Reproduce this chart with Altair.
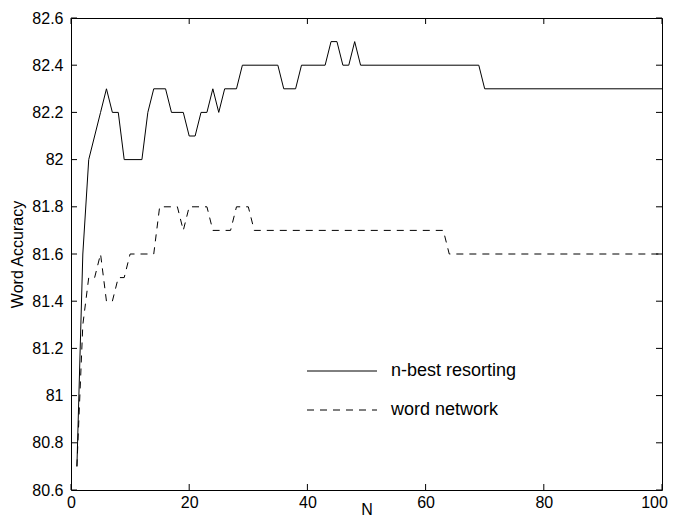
import altair as alt
import pandas as pd

# ---- data ----
nbest_N = [1, 2, 3, 4, 5, 6, 7, 8, 9, 12, 13, 14, 16, 17, 19, 20, 21, 22, 23, 24, 25, 26, 28,
           29, 35, 36, 38, 39, 43, 44, 45, 46, 47, 48, 49, 69, 70, 100]
nbest_acc = [80.7, 81.6, 82.0, 82.1, 82.2, 82.3, 82.2, 82.2, 82.0, 82.0, 82.2, 82.3, 82.3, 82.2,
             82.2, 82.1, 82.1, 82.2, 82.2, 82.3, 82.2, 82.3, 82.3, 82.4, 82.4, 82.3, 82.3, 82.4,
             82.4, 82.5, 82.5, 82.4, 82.4, 82.5, 82.4, 82.4, 82.3, 82.3]

wordnet_N = [1, 2, 3, 4, 5, 6, 7, 8, 9, 10, 14, 15, 18, 19, 20, 23, 24, 27, 28, 30, 31, 63, 64, 100]
wordnet_acc = [80.7, 81.3, 81.5, 81.5, 81.6, 81.4, 81.4, 81.5, 81.5, 81.6, 81.6, 81.8, 81.8, 81.7,
               81.8, 81.8, 81.7, 81.7, 81.8, 81.8, 81.7, 81.7, 81.6, 81.6]

x_ticks = [0, 20, 40, 60, 80, 100]
y_ticks = [80.6, 80.8, 81.0, 81.2, 81.4, 81.6, 81.8, 82.0, 82.2, 82.4, 82.6]
legend_labels = ["n-best resorting", "word network"]

W, H = 591, 472
FONT = "Liberation Sans"
TL = 6  # inner tick length

xs = alt.Scale(domain=[0, 100], nice=False, zero=False)
ys = alt.Scale(domain=[80.6, 82.6], nice=False, zero=False)

df1 = pd.DataFrame({"N": nbest_N, "acc": nbest_acc})
df2 = pd.DataFrame({"N": wordnet_N, "acc": wordnet_acc})
dfx = pd.DataFrame({"N": x_ticks})
dfy = pd.DataFrame({"acc": y_ticks})

x_axis = alt.Axis(values=x_ticks, ticks=False, grid=False, domain=False,
                  labelFont=FONT, labelFontSize=16, labelColor="black", labelPadding=4,
                  labelOffset={"condition": {"test": "datum.value == 100", "value": -8},
                               "value": 0},
                  titleFont=FONT, titleFontSize=16, titleFontWeight="normal", titleColor="black",
                  titlePadding=-9, labelFlush=False)
y_axis = alt.Axis(values=y_ticks, ticks=False, grid=False, domain=False,
                  format="~f", labelFont=FONT, labelFontSize=16, labelColor="black",
                  labelPadding=8, titleFont=FONT, titleFontSize=16, titleFontWeight="normal",
                  titleColor="black", titlePadding=6, labelFlush=False)

X = alt.X("N:Q", scale=xs, axis=x_axis, title="N")
Y = alt.Y("acc:Q", scale=ys, axis=y_axis, title="Word Accuracy")

line1 = alt.Chart(df1).mark_line(color="black", strokeWidth=1).encode(x=X, y=Y)
line2 = alt.Chart(df2).mark_line(color="black", strokeWidth=1, strokeDash=[7, 6]).encode(x=X, y=Y)

tick_bottom = alt.Chart(dfx).mark_rule(color="black", strokeWidth=1).encode(
    x=X, y=alt.value(H - TL), y2=alt.value(H))
tick_top = alt.Chart(dfx).mark_rule(color="black", strokeWidth=1).encode(
    x=X, y=alt.value(0), y2=alt.value(TL))
tick_left = alt.Chart(dfy).mark_rule(color="black", strokeWidth=1).encode(
    y=Y, x=alt.value(0), x2=alt.value(TL))
tick_right = alt.Chart(dfy).mark_rule(color="black", strokeWidth=1).encode(
    y=Y, x=alt.value(W - TL), x2=alt.value(W))

leg1 = pd.DataFrame({"label": [legend_labels[0]]})
leg2 = pd.DataFrame({"label": [legend_labels[1]]})
LX0, LX1, LTX = 236, 306, 320
LY1, LY2 = 353, 392

leg_rule1 = alt.Chart(leg1).mark_rule(color="black", strokeWidth=1).encode(
    x=alt.value(LX0), x2=alt.value(LX1), y=alt.value(LY1))
leg_rule2 = alt.Chart(leg2).mark_rule(color="black", strokeWidth=1, strokeDash=[7, 6]).encode(
    x=alt.value(LX0), x2=alt.value(LX1), y=alt.value(LY2))
leg_text1 = alt.Chart(leg1).mark_text(align="left", baseline="middle", font=FONT, fontSize=18,
                                      color="black").encode(
    text="label:N", x=alt.value(LTX), y=alt.value(LY1))
leg_text2 = alt.Chart(leg2).mark_text(align="left", baseline="middle", font=FONT, fontSize=18,
                                      color="black").encode(
    text="label:N", x=alt.value(LTX), y=alt.value(LY2))

chart = alt.layer(
    line1, line2, tick_bottom, tick_top, tick_left, tick_right,
    leg_rule1, leg_rule2, leg_text1, leg_text2,
).properties(
    width=W, height=H,
    autosize=alt.AutoSizeParams(type="none"),
    padding={"left": 63, "top": 10, "right": 6, "bottom": 27},
    background="white",
).configure_view(stroke="black", strokeWidth=1)

chart.save("out.html", embed_options={"renderer": "svg", "actions": False})
